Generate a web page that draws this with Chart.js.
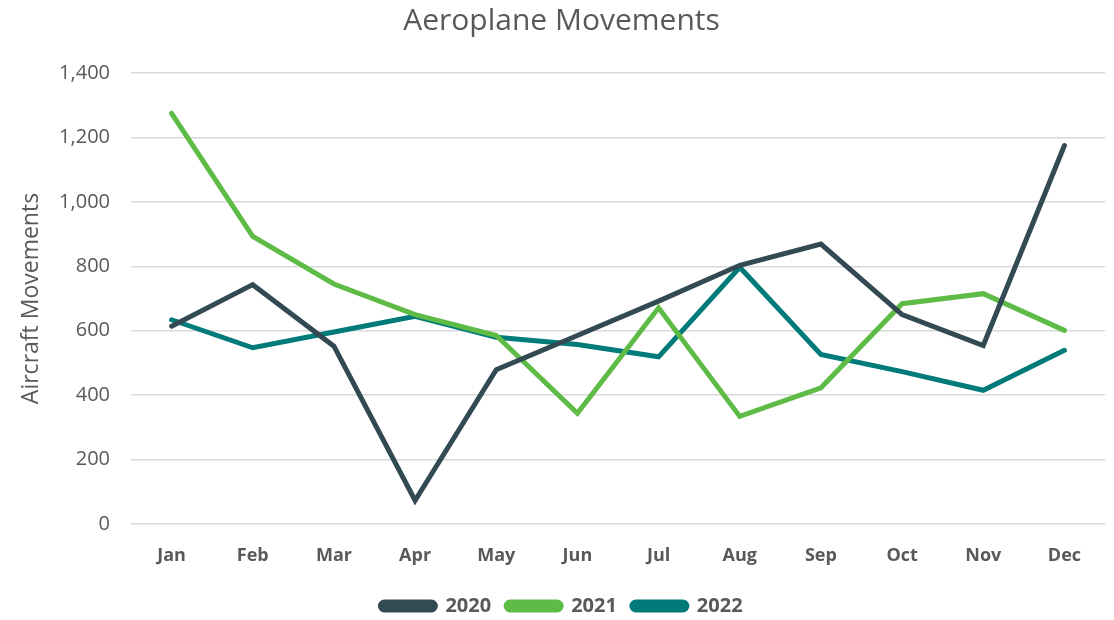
<!DOCTYPE html>
<html>
<head>
<meta charset="utf-8">
<script src="https://cdn.jsdelivr.net/npm/chart.js@4"></script>
<style>
    html, body { margin: 0; padding: 0; background: #ffffff; }
    #wrap { width: 1114px; height: 620px; }
</style>
</head>
<body>
<div id="wrap"><canvas id="movesChart" width="1114" height="620"></canvas></div>
<script>
// Chart data
const months = ['Jan', 'Feb', 'Mar', 'Apr', 'May', 'Jun', 'Jul', 'Aug', 'Sep', 'Oct', 'Nov', 'Dec'];
const moves2020 = [614, 743, 552, 73, 479, 585, 692, 803, 869, 650, 554, 1175];
const moves2021 = [1275, 893, 745, 650, 585, 344, 671, 334, 423, 684, 715, 601];
const moves2022 = [634, 547, 596, 645, 580, 557, 519, 797, 526, 473, 415, 539];
const yTicks = [0, 200, 400, 600, 800, 1000, 1200, 1400];

const grey = '#595959';
const fontFamily = '"Open Sans", "Liberation Sans", sans-serif';

function series(label, data, color) {
    return {
        label: label,
        data: data,
        borderColor: color,
        backgroundColor: color,
        borderWidth: 5,
        borderCapStyle: 'round',
        borderJoinStyle: 'miter',
        pointRadius: 0,
        tension: 0
    };
}

new Chart(document.getElementById('movesChart'), {
    type: 'line',
    data: {
        labels: months,
        datasets: [
            series('2020', moves2020, '#334a54'),
            series('2021', moves2021, '#5dbb46'),
            series('2022', moves2022, '#007b79')
        ]
    },
    options: {
        responsive: false,
        animation: false,
        layout: { padding: { left: 18, right: 9, top: 3, bottom: -6 } },
        plugins: {
            title: {
                display: true,
                text: 'Aeroplane Movements',
                color: grey,
                font: { family: fontFamily, size: 30, weight: 'normal' },
                padding: { top: 0, bottom: 34 }
            },
            legend: {
                position: 'bottom',
                labels: {
                    color: grey,
                    font: { family: fontFamily, size: 20, weight: 'bold' },
                    boxWidth: 55,
                    boxHeight: 8,
                    useBorderRadius: true,
                    borderRadius: 4,
                    padding: 15
                }
            },
            tooltip: { enabled: false }
        },
        scales: {
            x: {
                offset: true,
                grid: { display: false, drawTicks: false },
                border: { display: false },
                ticks: {
                    color: grey,
                    font: { family: fontFamily, size: 18, weight: 'bold' },
                    padding: 21
                },
                afterFit: function(scale) { scale.height = 57; }
            },
            y: {
                min: 0,
                max: 1400,
                afterBuildTicks: function(scale) {
                    scale.ticks = yTicks.map(v => ({ value: v }));
                },
                grid: { color: '#d9d9d9', lineWidth: 1.5, drawTicks: false },
                border: { display: false },
                ticks: {
                    color: grey,
                    font: { family: fontFamily, size: 20 },
                    padding: 21,
                    callback: function(value) {
                        return value.toLocaleString('en-US');
                    }
                },
                title: {
                    display: true,
                    text: 'Aircraft Movements',
                    color: grey,
                    font: { family: fontFamily, size: 23 },
                    padding: { top: 0, bottom: 0 }
                },
                afterFit: function(scale) { scale.width = 113; }
            }
        }
    }
});
</script>
</body>
</html>
